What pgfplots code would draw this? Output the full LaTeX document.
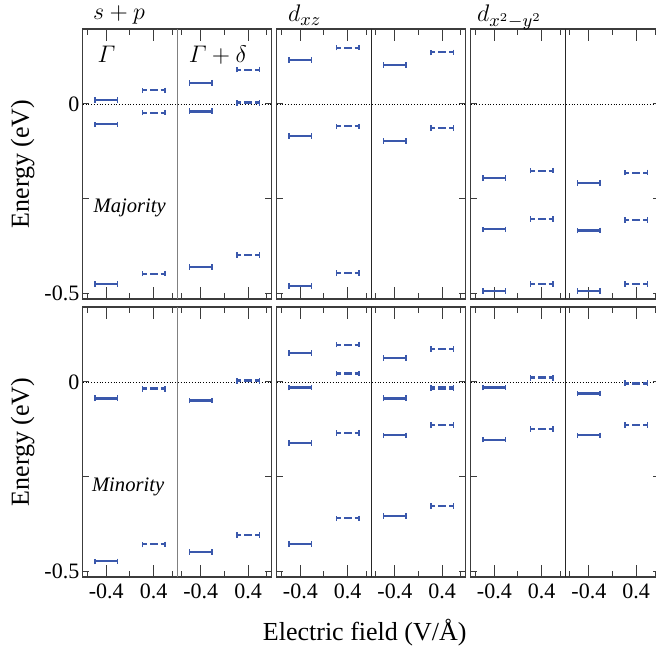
\documentclass[border=0pt]{standalone}
\usepackage{fontspec}
\setmainfont{Liberation Serif}
\usepackage{amsmath}
\usepackage{pgfplots}
\pgfplotsset{compat=1.18}
\usepgfplotslibrary{groupplots}
\definecolor{bl}{RGB}{58,88,172}
\definecolor{fr}{RGB}{60,60,60}
\pgfplotsset{
  lvl/.style={draw=none, mark=none, forget plot,
    /pgfplots/error bars/x dir=both, /pgfplots/error bars/x explicit,
    /pgfplots/error bars/error mark=|,
    /pgfplots/error bars/error bar style={draw=bl, line width=1.0pt, solid},
    /pgfplots/error bars/error mark options={draw=bl, solid, line width=0.7pt, mark size=1.4pt}},
  lvlT/.style={lvl, /pgfplots/error bars/error bar style={line width=1.6pt}},
  lvlD/.style={lvl, /pgfplots/error bars/error bar style={dash pattern=on 2pt off 1.5pt}},
  lvlDT/.style={lvlD, /pgfplots/error bars/error bar style={line width=1.6pt}},
  zl/.style={black, densely dotted, line width=0.4pt, forget plot},
  dv/.style={line width=0.6pt, forget plot},
}
\tikzset{ttl/.style={anchor=base west, inner sep=0pt, font=\fontsize{12.5}{15}\selectfont}}
\begin{document}
\begin{tikzpicture}
\begin{groupplot}[group style={group name=G, group size=3 by 2, horizontal sep=2.5pt, vertical sep=4pt, xticklabels at=edge bottom, yticklabels at=edge left},
 scale only axis, width=94.5pt, height=135pt,
 xmin=0, xmax=3.2, ymin=-0.515, ymax=0.198,
 xtick={0.4,1.2,2.0,2.8}, xticklabels={-0.4,0.4,-0.4,0.4},
 minor xtick={0.08,0.8,1.52,1.68,2.4,3.12},
 ytick={-0.5,0}, yticklabels={-0.5,0}, minor ytick={-0.5,-0.25,0},
 major y tick style={draw=none},
 major tick length=6pt, minor tick length=3.2pt,
 tick style={fr, line width=0.5pt},
 axis line style={fr, line width=0.6pt},
 tick label style={font=\fontsize{11}{13}\selectfont},
 yticklabel style={inner xsep=1.5pt},
 ylabel style={font=\fontsize{13}{15}\selectfont},
 clip=false,
]
% ---- s+p majority
\nextgroupplot[ylabel={Energy (eV)}]
\coordinate (TL) at (rel axis cs:0,1);
\node[ttl] at ([xshift=5pt, yshift=4.5pt]rel axis cs:0,1) {$s+p$};
\addplot[zl] coordinates {(0,0) (3.2,0)};
\addplot[dv, gray] coordinates {(1.6,-0.515) (1.6,0.198)};
\addplot[lvl] coordinates {(0.4,0.011) +- (0.19,0) (0.4,-0.054) +- (0.19,0) (0.4,-0.476) +- (0.19,0) (2.0,0.056) +- (0.19,0) (2.0,-0.431) +- (0.19,0)};
\addplot[lvlT] coordinates {(2.0,-0.019) +- (0.19,0)};
\addplot[lvlD] coordinates {(1.2,0.036) +- (0.19,0) (1.2,-0.023) +- (0.19,0) (1.2,-0.448) +- (0.19,0) (2.8,0.091) +- (0.19,0) (2.8,-0.399) +- (0.19,0)};
\addplot[lvlDT] coordinates {(2.8,0.003) +- (0.19,0)};
\node[anchor=base west, inner sep=0pt, font=\fontsize{12}{14}\selectfont] at (rel axis cs:0.077,0.875) {$\varGamma$};
\node[anchor=base west, inner sep=0pt, font=\fontsize{12}{14}\selectfont] at (rel axis cs:0.559,0.875) {$\varGamma+\delta$};
\node[anchor=base west, inner sep=0pt, font=\fontsize{10.3}{12}\itshape] at (axis cs:0.18,-0.286) {Majority};
% ---- dxz majority
\nextgroupplot
\node[ttl] at ([xshift=5.5pt, yshift=3.5pt]rel axis cs:0,1) {$d_{xz}$};
\addplot[zl] coordinates {(0,0) (3.2,0)};
\addplot[dv, black!85] coordinates {(1.6,-0.515) (1.6,0.198)};
\addplot[lvl] coordinates {(0.4,0.116) +- (0.19,0) (0.4,-0.085) +- (0.19,0) (0.4,-0.481) +- (0.19,0) (2.0,0.103) +- (0.19,0) (2.0,-0.098) +- (0.19,0)};
\addplot[lvlD] coordinates {(1.2,0.149) +- (0.19,0) (1.2,-0.059) +- (0.19,0) (1.2,-0.447) +- (0.19,0) (2.8,0.136) +- (0.19,0) (2.8,-0.064) +- (0.19,0)};
% ---- dx2-y2 majority
\nextgroupplot
\node[ttl] at ([xshift=3pt, yshift=3.5pt]rel axis cs:0,1) {$d_{x^2-y^2}$};
\addplot[zl] coordinates {(0,0) (3.2,0)};
\addplot[dv, black!85] coordinates {(1.6,-0.515) (1.6,0.198)};
\addplot[lvl] coordinates {(0.4,-0.196) +- (0.19,0) (0.4,-0.331) +- (0.19,0) (0.4,-0.494) +- (0.19,0) (2.0,-0.208) +- (0.19,0) (2.0,-0.494) +- (0.19,0)};
\addplot[lvlT] coordinates {(2.0,-0.334) +- (0.19,0)};
\addplot[lvlD] coordinates {(1.2,-0.176) +- (0.19,0) (1.2,-0.304) +- (0.19,0) (1.2,-0.476) +- (0.19,0) (2.8,-0.181) +- (0.19,0) (2.8,-0.306) +- (0.19,0) (2.8,-0.475) +- (0.19,0)};
% ---- s+p minority
\nextgroupplot[ylabel={Energy (eV)}]
\coordinate (BL) at (rel axis cs:0,0);
\addplot[zl] coordinates {(0,0) (3.2,0)};
\addplot[dv, gray] coordinates {(1.6,-0.515) (1.6,0.198)};
\addplot[lvl] coordinates {(0.4,-0.474) +- (0.19,0) (2.0,-0.449) +- (0.19,0)};
\addplot[lvlT] coordinates {(0.4,-0.043) +- (0.19,0) (2.0,-0.049) +- (0.19,0)};
\addplot[lvlD] coordinates {(1.2,-0.429) +- (0.19,0) (2.8,-0.404) +- (0.19,0)};
\addplot[lvlDT] coordinates {(1.2,-0.018) +- (0.19,0) (2.8,0.003) +- (0.19,0)};
\node[anchor=base west, inner sep=0pt, font=\fontsize{10.3}{12}\itshape] at (axis cs:0.152,-0.289) {Minority};
% ---- dxz minority
\nextgroupplot
\addplot[zl] coordinates {(0,0) (3.2,0)};
\addplot[dv, black!85] coordinates {(1.6,-0.515) (1.6,0.198)};
\addplot[lvl] coordinates {(0.4,0.077) +- (0.19,0) (0.4,-0.161) +- (0.19,0) (0.4,-0.428) +- (0.19,0) (2.0,0.064) +- (0.19,0) (2.0,-0.141) +- (0.19,0) (2.0,-0.354) +- (0.19,0)};
\addplot[lvlT] coordinates {(0.4,-0.015) +- (0.19,0) (2.0,-0.043) +- (0.19,0)};
\addplot[lvlD] coordinates {(1.2,0.099) +- (0.19,0) (1.2,-0.134) +- (0.19,0) (1.2,-0.360) +- (0.19,0) (2.8,0.087) +- (0.19,0) (2.8,-0.114) +- (0.19,0) (2.8,-0.328) +- (0.19,0)};
\addplot[lvlDT] coordinates {(1.2,0.022) +- (0.19,0) (2.8,-0.016) +- (0.19,0)};
% ---- dx2-y2 minority
\nextgroupplot
\addplot[zl] coordinates {(0,0) (3.2,0)};
\addplot[dv, black!85] coordinates {(1.6,-0.515) (1.6,0.198)};
\addplot[lvl] coordinates {(0.4,-0.152) +- (0.19,0) (2.0,-0.141) +- (0.19,0)};
\addplot[lvlT] coordinates {(0.4,-0.015) +- (0.19,0) (2.0,-0.030) +- (0.19,0)};
\addplot[lvlD] coordinates {(1.2,-0.124) +- (0.19,0) (2.8,-0.114) +- (0.19,0)};
\addplot[lvlDT] coordinates {(1.2,0.011) +- (0.19,0) (2.8,-0.003) +- (0.19,0)};
\end{groupplot}
\node[anchor=base, inner sep=0pt, font=\fontsize{13}{15}\selectfont] at ([xshift=141pt, yshift=-31.75pt]BL) {Electric field (V/Å)};
\pgfresetboundingbox
\useasboundingbox ([xshift=-41.35pt, yshift=14.5pt]TL) rectangle ([xshift=286.65pt, yshift=-34.5pt]BL);
\end{tikzpicture}
\end{document}
